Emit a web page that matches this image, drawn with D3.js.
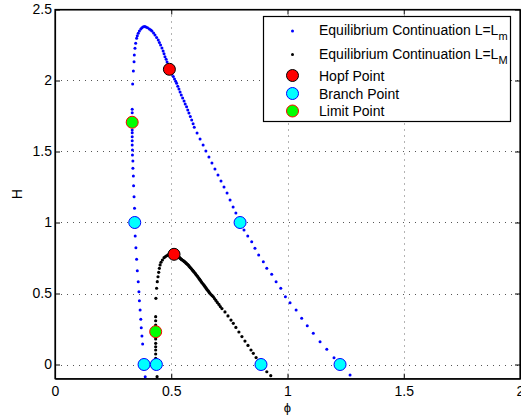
<!DOCTYPE html>
<html>
<head>
<meta charset="utf-8">
<script src="https://cdn.jsdelivr.net/npm/d3@7"></script>
<style>
  html, body { margin: 0; padding: 0; background: #fff; }
  svg { display: block; font-family: "Liberation Sans", Arial, Helvetica, sans-serif; }
</style>
</head>
<body>
<svg id="chart" width="521" height="417"></svg>
<script>
// ---- data (phi, H) ----
const blueCurve = [
  [0.388,-0.086],[0.377,0.144],[0.374,0.201],[0.371,0.259],[0.369,0.318],[0.366,0.384],
  [0.363,0.449],[0.361,0.513],[0.358,0.583],[0.354,0.661],[0.351,0.741],[0.348,0.823],
  [0.345,0.905],[0.342,1.100],[0.340,1.182],[0.338,1.259],[0.337,1.327],[0.335,1.382],
  [0.335,1.433],[0.333,1.475],[0.333,1.511],[0.332,1.546],[0.332,1.576],[0.332,1.604],
  [0.332,1.632],[0.332,1.651],[0.332,1.680],[0.332,1.736],[0.332,1.773],[0.332,1.797],
  [0.334,1.975],[0.337,2.067],[0.340,2.132],[0.341,2.180],[0.344,2.227],[0.347,2.262],
  [0.351,2.297],[0.354,2.316],[0.358,2.332],[0.363,2.349],[0.369,2.363],[0.374,2.372],
  [0.380,2.379],[0.386,2.380],[0.391,2.377],[0.398,2.371],[0.406,2.363],[0.412,2.356],
  [0.417,2.349],[0.424,2.335],[0.430,2.320],[0.437,2.303],[0.444,2.285],[0.449,2.268],
  [0.454,2.250],[0.460,2.229],[0.465,2.208],[0.469,2.188],[0.473,2.168],[0.478,2.149],
  [0.482,2.130],[0.487,2.105],[0.492,2.079],[0.498,2.062],[0.503,2.046],[0.509,2.028],
  [0.514,2.011],[0.519,1.995],[0.523,1.980],[0.528,1.960],[0.533,1.940],[0.538,1.919],
  [0.543,1.898],[0.549,1.877],[0.555,1.856],[0.560,1.835],[0.566,1.815],[0.571,1.793],
  [0.576,1.771],[0.582,1.746],[0.588,1.722],[0.594,1.696],[0.599,1.670],[0.611,1.630],
  [0.624,1.588],[0.637,1.546],[0.649,1.504],[0.662,1.461],[0.675,1.419],[0.688,1.377],
  [0.701,1.335],[0.714,1.292],[0.727,1.250],[0.740,1.208],[0.753,1.158],[0.766,1.109],
  [0.778,1.067],[0.794,1.011],[0.813,0.947],[0.829,0.905],[0.846,0.865],[0.860,0.818],
  [0.876,0.771],[0.896,0.724],[0.911,0.677],[0.932,0.635],[0.951,0.583],[0.971,0.537],
  [0.991,0.477],[1.011,0.435],[1.037,0.384],[1.061,0.325],[1.085,0.273],[1.111,0.220],
  [1.140,0.161],[1.169,0.107],[1.200,0.048],[1.269,-0.074]
];
const blackCurve = [
  [0.439,-0.086],[0.433,0.044],[0.433,0.074],[0.433,0.102],[0.433,0.125],[0.433,0.149],
  [0.433,0.180],[0.433,0.201],[0.433,0.254],[0.433,0.278],[0.433,0.308],[0.433,0.337],
  [0.434,0.466],[0.437,0.537],[0.440,0.583],[0.443,0.618],[0.446,0.649],[0.449,0.677],
  [0.452,0.701],[0.456,0.720],[0.462,0.736],[0.469,0.752],[0.475,0.760],[0.480,0.766],
  [0.486,0.772],[0.492,0.776],[0.503,0.778],[0.508,0.777],[0.516,0.773],[0.520,0.769],
  [0.522,0.768],[0.524,0.766],[0.527,0.763],[0.529,0.761],[0.531,0.758],[0.533,0.755],
  [0.536,0.752],[0.538,0.748],[0.541,0.744],[0.544,0.740],[0.547,0.736],[0.551,0.732],
  [0.554,0.728],[0.557,0.724],[0.560,0.720],[0.563,0.715],[0.566,0.710],[0.570,0.705],
  [0.573,0.700],[0.576,0.694],[0.579,0.688],[0.582,0.682],[0.586,0.676],[0.589,0.669],
  [0.592,0.663],[0.595,0.657],[0.598,0.651],[0.602,0.644],[0.605,0.637],[0.608,0.630],
  [0.612,0.623],[0.615,0.616],[0.619,0.606],[0.622,0.600],[0.624,0.595],[0.627,0.588],
  [0.630,0.581],[0.633,0.574],[0.637,0.567],[0.640,0.560],[0.643,0.553],[0.646,0.546],
  [0.649,0.539],[0.652,0.532],[0.655,0.525],[0.659,0.518],[0.662,0.511],[0.666,0.502],
  [0.671,0.493],[0.676,0.485],[0.681,0.477],[0.686,0.464],[0.692,0.451],[0.698,0.437],
  [0.705,0.423],[0.711,0.408],[0.718,0.394],[0.731,0.370],[0.744,0.342],[0.757,0.313],
  [0.767,0.290],[0.778,0.261],[0.791,0.229],[0.804,0.197],[0.817,0.165],[0.830,0.134],
  [0.843,0.102],[0.853,0.079],[0.865,0.049],[0.875,0.025],[0.899,-0.025],[0.911,-0.051],
  [0.928,-0.079]
];
const hopfPoints   = [[0.492,2.079],[0.512,0.776]];
const branchPoints = [[0.343,1.0],[0.796,1.0],[0.383,0.0],[0.436,0.0],[0.886,0.0],[1.226,0.0]];
const limitPoints  = [[0.332,1.706],[0.433,0.231]];
const xTicks = [0, 0.5, 1, 1.5, 2];
const yTicks = [0, 0.5, 1, 1.5, 2, 2.5];
const xTickLabels = ["0", "0.5", "1", "1.5", "2"];
const yTickLabels = ["0", "0.5", "1", "1.5", "2", "2.5"];
const legendLabels = ["Equilibrium Continuation L=L", "Equilibrium Continuation L=L", "Hopf Point", "Branch Point", "Limit Point"];
const legendSubs = ["m", "M", "", "", ""];

// ---- layout ----
const svg = d3.select("#chart");
const pL = 55, pR = 520, pT = 9.5, pB = 378.7;
const x = d3.scaleLinear().domain([0, 2]).range([pL, pR]);
const y = d3.scaleLinear().domain([-0.1, 2.5]).range([pB, pT]);

// grid
const grid = svg.append("g");
grid.selectAll("line.gx").data(xTicks.filter(d => d > 0 && d < 2)).join("line")
  .attr("x1", d => Math.round(x(d)) + 0.5).attr("x2", d => Math.round(x(d)) + 0.5).attr("y1", pT).attr("y2", pB)
  .attr("stroke", "#666").attr("stroke-width", 1).attr("stroke-dasharray", "1,5");
grid.selectAll("line.gy").data(yTicks.filter(d => d < 2.5)).join("line")
  .attr("x1", pL).attr("x2", pR).attr("y1", d => Math.round(y(d)) + 0.5).attr("y2", d => Math.round(y(d)) + 0.5)
  .attr("stroke", "#555").attr("stroke-width", 1).attr("stroke-dasharray", "1,5");

// axes (MATLAB box with inward ticks)
const fmtX = (d, i) => xTickLabels[i];
const fmtY = (d, i) => yTickLabels[i];
const axB = svg.append("g").attr("transform", `translate(0,${pB})`)
  .call(d3.axisBottom(x).tickValues(xTicks).tickFormat(fmtX).tickSizeInner(-5).tickSizeOuter(0).tickPadding(7));
const axL = svg.append("g").attr("transform", `translate(${pL},0)`)
  .call(d3.axisLeft(y).tickValues(yTicks).tickFormat(fmtY).tickSizeInner(-5).tickSizeOuter(0).tickPadding(3));
const axT = svg.append("g").attr("transform", `translate(0,${pT})`)
  .call(d3.axisTop(x).tickValues(xTicks).tickFormat("").tickSizeInner(-5).tickSizeOuter(0));
const axR = svg.append("g").attr("transform", `translate(${pR},0)`)
  .call(d3.axisRight(y).tickValues(yTicks).tickFormat("").tickSizeInner(-5).tickSizeOuter(0));
[axB, axL, axT, axR].forEach(a => {
  a.selectAll("path.domain").attr("stroke", "#000").attr("stroke-width", 1.2);
  a.selectAll(".tick line").attr("stroke", "#000");
  a.selectAll("text").attr("font-size", 14).attr("fill", "#000")
    .attr("font-family", "'Liberation Sans', Arial, sans-serif");
});
svg.append("rect").attr("x", pL).attr("y", pT).attr("width", pR - pL).attr("height", pB - pT)
  .attr("fill", "none").attr("stroke", "#000").attr("stroke-width", 1.2);

// axis labels
svg.append("text").attr("x", x(1)).attr("y", 412).attr("text-anchor", "middle")
  .attr("font-size", 13).text("\u03d5");
svg.append("text").attr("transform", `translate(22,${y(1.2)}) rotate(-90)`).attr("text-anchor", "middle")
  .attr("font-size", 14).text("H");

// curves
svg.append("g").selectAll("circle").data(blueCurve).join("circle")
  .attr("cx", d => x(d[0])).attr("cy", d => y(d[1])).attr("r", 1.5).attr("fill", "#0000ff");
svg.append("g").selectAll("circle").data(blackCurve).join("circle")
  .attr("cx", d => x(d[0])).attr("cy", d => y(d[1])).attr("r", 1.6).attr("fill", "#000");

// special points
function pts(data, fill, stroke) {
  svg.append("g").selectAll("circle").data(data).join("circle")
    .attr("cx", d => x(d[0])).attr("cy", d => y(d[1])).attr("r", 6)
    .attr("fill", fill).attr("stroke", stroke).attr("stroke-width", 1);
}
pts(hopfPoints, "#ff0000", "#000");
pts(branchPoints, "#00ffff", "#0000ff");
pts(limitPoints, "#00ff00", "#ff0000");

// legend
const lg = svg.append("g");
lg.append("rect").attr("x", 263.5).attr("y", 16.5).attr("width", 247).attr("height", 105)
  .attr("fill", "#fff").attr("stroke", "#000").attr("stroke-width", 1.2);
const rowsY = [30, 53.5, 75.5, 93.5, 111];
const mk = 292.5, tx = 319;
lg.append("circle").attr("cx", mk).attr("cy", rowsY[0] + 1).attr("r", 1.5).attr("fill", "#0000ff");
lg.append("circle").attr("cx", mk).attr("cy", rowsY[1] + 1).attr("r", 1.5).attr("fill", "#000");
lg.append("circle").attr("cx", mk).attr("cy", rowsY[2]).attr("r", 6).attr("fill", "#ff0000").attr("stroke", "#000");
lg.append("circle").attr("cx", mk).attr("cy", rowsY[3]).attr("r", 6).attr("fill", "#00ffff").attr("stroke", "#0000ff");
lg.append("circle").attr("cx", mk).attr("cy", rowsY[4]).attr("r", 6).attr("fill", "#00ff00").attr("stroke", "#ff0000");
legendLabels.forEach((t, i) => {
  const te = lg.append("text").attr("x", tx).attr("y", rowsY[i] + 5).attr("font-size", 14).attr("fill", "#000");
  te.append("tspan").text(t);
  if (legendSubs[i]) te.append("tspan").attr("dy", 5).attr("font-size", 11).text(legendSubs[i]);
});
</script>
</body>
</html>
